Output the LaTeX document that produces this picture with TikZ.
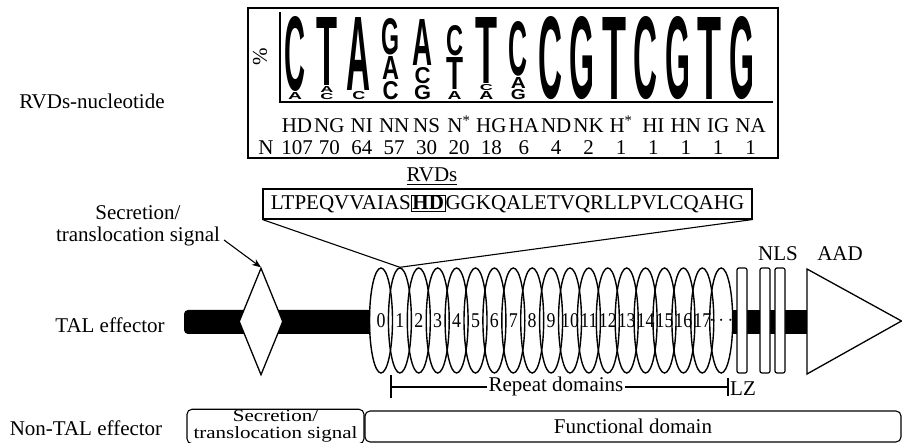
\documentclass[tikz,border=0pt]{standalone}
\usepackage{fontspec}
\setmainfont{Liberation Serif}
\newfontfamily\logofont{Liberation Sans}
\usetikzlibrary{shapes.geometric,arrows.meta}
\newcommand\LL[6]{\node[inner sep=0pt,anchor=south] (#1) at (#2,#4) {\resizebox{#5pt}{\dimexpr #4pt-#3pt\relax}{\logofont\bfseries #6}};}
\begin{document}
\begin{tikzpicture}[x=1pt,y=-1pt,
  every node/.style={font=\fontsize{21}{22}\selectfont},
  ell/.style={draw, ellipse, line width=1.4pt, minimum width=23pt, minimum height=105pt, inner sep=0pt},
  wrect/.style={draw, fill=white, rounded corners=2pt, line width=1.2pt, minimum width=10pt, minimum height=105pt, inner sep=0pt},
  thinl/.style={line width=1.1pt}]
\useasboundingbox (0,0) rectangle (902,443);

% ---------- logo box ----------
\node[draw, line width=1.1pt, minimum width=530pt, minimum height=150pt, inner sep=0pt] (logobox) at (513,83) {};
\coordinate (axT) at (280,12);
\coordinate (axO) at (280,102);
\coordinate (axR) at (773,102);
\draw[line width=2pt] (axT) -- (axO) -- (axR);
\node[rotate=90] (pct) at (260,57) {\%};

% column 1
\LL{c1a}{295}{18}{92}{21}{C}
\LL{c1b}{295}{93}{100}{14}{A}
% column 2
\LL{c2a}{326.9}{18}{86}{21}{T}
\LL{c2b}{326.9}{87}{93}{13}{A}
\LL{c2c}{326.9}{94}{100}{13}{C}
% column 3
\LL{c3a}{358.8}{18}{91}{24}{A}
\LL{c3b}{358.8}{92}{100}{13}{C}
% column 4
\LL{c4a}{390.7}{19}{55}{18}{G}
\LL{c4b}{390.7}{57}{80}{17}{A}
\LL{c4c}{390.7}{82}{100}{16}{C}
% column 5
\LL{c5a}{422.6}{20}{66}{20}{A}
\LL{c5b}{422.6}{68}{84}{16}{C}
\LL{c5c}{422.6}{86}{100}{17}{G}
% column 6
\LL{c6a}{454.5}{26}{56}{17}{C}
\LL{c6b}{454.5}{58}{90}{17}{T}
\LL{c6c}{454.5}{92}{100}{14}{A}
% column 7
\LL{c7a}{486.4}{18}{84}{22}{T}
\LL{c7b}{486.4}{85}{91}{13}{C}
\LL{c7c}{486.4}{92}{100}{14}{A}
% column 8
\LL{c8a}{518.3}{22}{76}{19}{C}
\LL{c8b}{518.3}{78}{89}{15}{A}
\LL{c8c}{518.3}{90}{100}{15}{G}
% columns 9-15
\LL{c9a}{550.2}{18}{100}{24}{C}
\LL{c10a}{582.1}{18}{100}{25}{G}
\LL{c11a}{614}{18}{100}{24}{T}
\LL{c12a}{645.9}{18}{100}{24}{C}
\LL{c13a}{677.8}{18}{100}{25}{G}
\LL{c14a}{709.7}{18}{100}{24}{T}
\LL{c15a}{741.6}{18}{100}{25}{G}

% RVD labels and counts
\foreach \t [count=\i] in {HD,NG,NI,NN,NS,N\textsuperscript{*},HG,HA,ND,NK,H\textsuperscript{*},HI,HN,IG,NA}
  \node[anchor=base] (rv\i) at ({297+32.4*(\i-1)},133) {\t};
\node[anchor=base] (nN) at (266,155) {N};
\foreach \t [count=\i] in {107,70,64,57,30,20,18,6,4,2,1,1,1,1,1}
  \node[anchor=base] (nc\i) at ({297+32.4*(\i-1)},155) {\t};

\node[anchor=base] (rvds) at (432,182) {\underline{RVDs}};

% peptide
\setlength{\fboxsep}{0.6pt}\setlength{\fboxrule}{1pt}
\node[draw, line width=1.1pt, minimum width=489pt, minimum height=30pt, inner sep=0pt] (pep) at (507.5,204)
  {LTPEQVVAIAS\fbox{\textbf{HD}}GGKQALETVQRLLPVLCQAHG};

% left labels
\node (rvdnuc) at (92,101) {RVDs-nucleotide};
\node (tal) at (110,325) {TAL effector};
\node[align=center] (sec) at (138,226) {Secretion/\\translocation signal};

% black bars
\fill (370,310) [rounded corners=4pt] -- (184,310) -- (184,334) [sharp corners] -- (370,334) -- cycle;
\fill (732,310) rectangle (808,334);

% diamond
\node[draw, diamond, fill=white, line width=1.3pt, minimum width=44pt, minimum height=107pt, inner sep=0pt] (ds) at (261,321.5) {};
\coordinate (arS) at (224,240);
\draw[line width=1.1pt, -{Stealth[length=9pt,width=7pt]}] (arS) -- (ds.north);

% repeats
\foreach \k in {0,...,17}
  \node[ell] (e\k) at ({381+18.9*\k},320.5) {\makebox[0pt]{\scalebox{0.85}[1]{\k}}};
\node[ell] (e18) at ({381+18.9*18},320.5) {\makebox[0pt]{$\cdots$}};

\draw[thinl] (pep.south west) -- (e1.north) -- (pep.south east);

% NLS rectangles
\node[wrect] (r1) at (742,320.5) {};
\node[wrect] (r2) at (765,320.5) {};
\node[wrect] (r3) at (780,320.5) {};
\node (nls) at (778,254) {NLS};

% AAD triangle
\coordinate (tA) at (807,269);
\coordinate (tB) at (901.5,321);
\coordinate (tC) at (807,374);
\filldraw[fill=white, line width=1.3pt, line join=miter] (tA) -- (tB) -- (tC) -- cycle;
\node (aad) at (840,254) {AAD};

% repeat domains bracket
\coordinate (rdLt) at (391,375);
\coordinate (rdLb) at (391,398);
\coordinate (rdRt) at (728,378);
\coordinate (rdRb) at (728,396);
\coordinate (rdL) at (391,387);
\coordinate (rdR) at (728,387);
\draw[thinl] (rdLt) -- (rdLb);
\draw[thinl] (rdRt) -- (rdRb);
\draw[thinl] (rdL) -- (rdR);
\node[fill=white, inner sep=2pt] (rdtext) at (556,386) {Repeat domains};
\node[anchor=west, inner sep=0pt] (lz) at (730,389) {LZ};

% non-TAL effector
\node (ntal) at (86,428) {Non-TAL effector};
\node[draw, rounded corners=5pt, line width=1.1pt, minimum width=177pt, minimum height=31pt, inner sep=0pt] (sb) at (275.5,426.5)
  {\scalebox{1}[0.82]{\begin{tabular}{@{}c@{}}Secretion/\\[-2pt]translocation signal\end{tabular}}};
\node[draw, rounded corners=5pt, line width=1.1pt, minimum width=536pt, minimum height=31pt, inner sep=0pt] (fd) at (633,426.5) {Functional domain};
\end{tikzpicture}
\end{document}
